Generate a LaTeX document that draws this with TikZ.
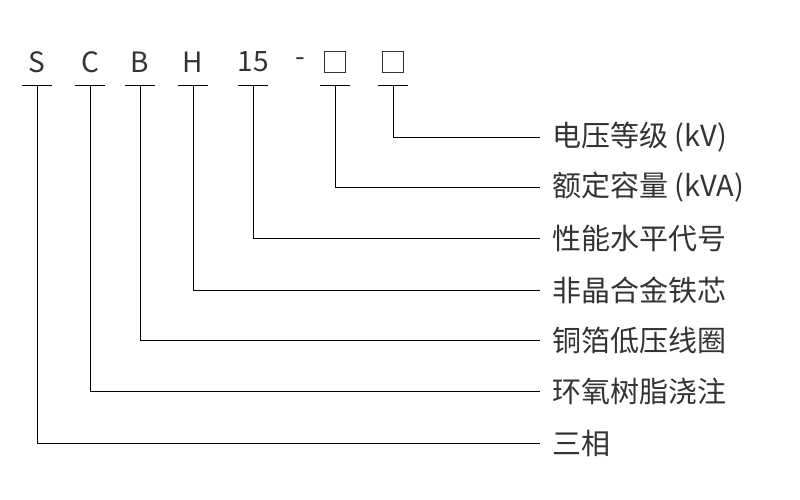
\documentclass[tikz,border=0pt]{standalone}
\usepackage{fontspec}
\newfontfamily\cjk{Noto Sans CJK SC}
\definecolor{txt}{HTML}{333333}
\begin{document}
\begin{tikzpicture}[x=1pt,y=-1pt,
  code/.style={font=\cjk\fontsize{28}{28}\selectfont,text=txt,inner sep=0pt},
  lab/.style={font=\cjk\fontsize{29}{29}\selectfont,text=txt,inner sep=0pt,anchor=west},
  sq/.style={draw=txt,line width=1.2pt,minimum size=21pt,inner sep=0pt},
  ln/.style={line width=0.8pt,black}]
\useasboundingbox (0,0) rectangle (800,500);
\node[code] (s) at (37,62) {S};
\node[code] (c) at (90,62) {C};
\node[code] (b) at (140,62) {B};
\node[code] (h) at (193,62) {H};
\node[code] (n) at (253,62) {15};
\node[code] (d) at (300,62) {-};
\node[sq] (q1) at (335,62) {};
\node[sq] (q2) at (393,62) {};
\foreach \n/\x in {s/37,c/90,b/140,h/193,n/253,q1/335,q2/393}{
  \coordinate (u\n) at (\x,85);
  \draw[ln] (\x-15,85) -- (\x+15,85);
}
\node[lab] (l1) at (552,137) {电压等级 (kV)};
\node[lab] (l2) at (552,187) {额定容量 (kVA)};
\node[lab] (l3) at (552,238) {性能水平代号};
\node[lab] (l4) at (552,290) {非晶合金铁芯};
\node[lab] (l5) at (552,340) {铜箔低压线圈};
\node[lab] (l6) at (552,391) {环氧树脂浇注};
\node[lab] (l7) at (552,443) {三相};
\foreach \n/\l in {q2/l1,q1/l2,n/l3,h/l4,b/l5,c/l6,s/l7}{
  \draw[ln] (u\n) |- ([xshift=-12pt]\l.west);
}
\end{tikzpicture}
\end{document}
